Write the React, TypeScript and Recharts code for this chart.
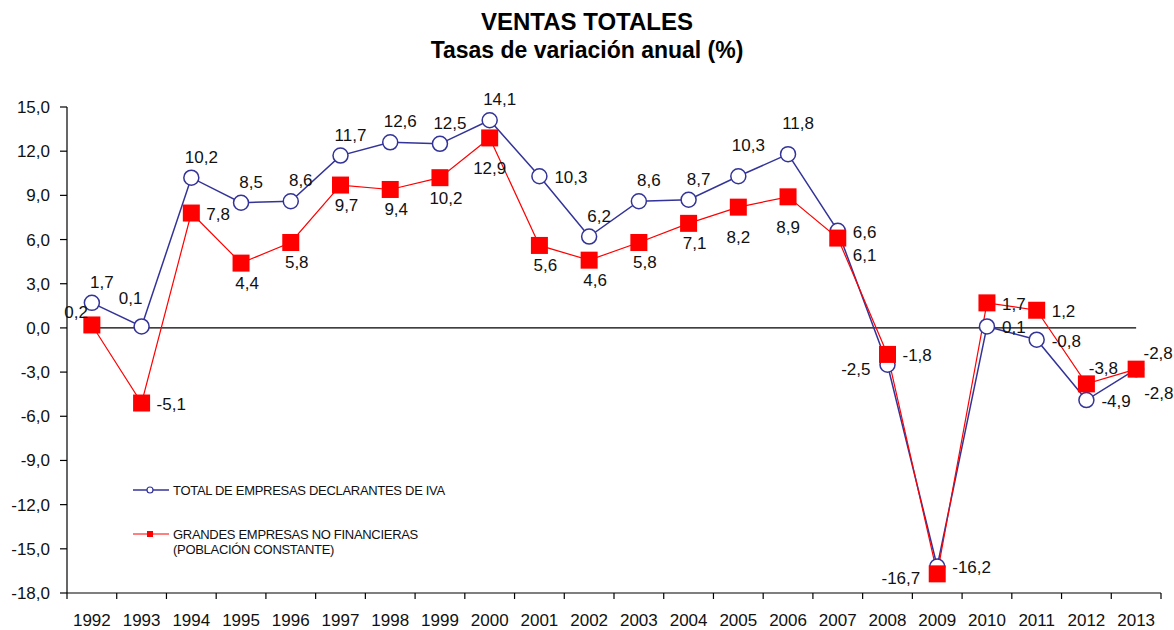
import React from 'react';
import { LineChart, Line, XAxis, YAxis, ReferenceLine, LabelList } from 'recharts';

const YEARS = [
  '1992', '1993', '1994', '1995', '1996', '1997', '1998', '1999', '2000', '2001', '2002',
  '2003', '2004', '2005', '2006', '2007', '2008', '2009', '2010', '2011', '2012', '2013',
];

// TOTAL DE EMPRESAS DECLARANTES DE IVA
const TOTAL_IVA = [
  1.7, 0.1, 10.2, 8.5, 8.6, 11.7, 12.6, 12.5, 14.1, 10.3, 6.2,
  8.6, 8.7, 10.3, 11.8, 6.6, -2.5, -16.2, 0.1, -0.8, -4.9, -2.8,
];

// GRANDES EMPRESAS NO FINANCIERAS (POBLACIÓN CONSTANTE)
const GRANDES = [
  0.2, -5.1, 7.8, 4.4, 5.8, 9.7, 9.4, 10.2, 12.9, 5.6, 4.6,
  5.8, 7.1, 8.2, 8.9, 6.1, -1.8, -16.7, 1.7, 1.2, -3.8, -2.8,
];

const Y_TICKS = [-18, -15, -12, -9, -6, -3, 0, 3, 6, 9, 12, 15];

// where each data label sits relative to its marker
const TOTAL_LABEL_POS = [
  'top', 'topleft', 'top', 'top', 'top', 'top', 'top', 'top', 'top', 'right', 'top',
  'top', 'top', 'hightop', 'hightop', 'right', 'left', 'right', 'right', 'right', 'right', 'cornerright',
];
const GRANDES_LABEL_POS = [
  'upleft', 'right', 'right', 'bottom', 'bottom', 'bottom', 'bottom', 'bottom', 'lowbottom', 'bottom', 'bottom',
  'bottom', 'bottom', 'lowbottom', 'lowbottom', 'lowright', 'right', 'left', 'right', 'right', 'topright', 'farright',
];

const W = 1174;
const H = 630;
const M = { top: 107, right: 13, bottom: 0, left: 0 };
const Y_W = 67;
const X_H = 37;
const HALF_BAND = (W - Y_W - M.right) / YEARS.length / 2;

const FONT = '"Liberation Sans", Arial, sans-serif';
const BLUE = '#333399';
const RED = '#ff0000';

const data = YEARS.map((year, i) => ({
  year,
  pos: i + 0.5,
  total: TOTAL_IVA[i],
  grandes: GRANDES[i],
}));

const fmt = (v: number) => v.toFixed(1).replace('.', ',');

const OFFSETS: Record<string, { dx: number; dy: number; anchor: string }> = {
  top: { dx: 10, dy: -21, anchor: 'middle' },
  hightop: { dx: 10, dy: -31, anchor: 'middle' },
  topleft: { dx: -11, dy: -28, anchor: 'middle' },
  upleft: { dx: -4, dy: -13, anchor: 'end' },
  topright: { dx: 17, dy: -16, anchor: 'middle' },
  farright: { dx: 22, dy: -16, anchor: 'middle' },
  bottom: { dx: 6, dy: 20, anchor: 'middle' },
  lowbottom: { dx: 0, dy: 30, anchor: 'middle' },
  right: { dx: 15, dy: 1, anchor: 'start' },
  lowright: { dx: 15, dy: 17, anchor: 'start' },
  cornerright: { dx: 8, dy: 24, anchor: 'start' },
  left: { dx: -17, dy: 4, anchor: 'end' },
};

const makeLabel = (positions: string[]) => (props: any) => {
  const vb = props.viewBox || {};
  const x = props.x ?? vb.x + (vb.width || 0) / 2;
  const y = props.y ?? vb.y + (vb.height || 0) / 2;
  const o = OFFSETS[positions[props.index]] || OFFSETS.top;
  return (
    <text
      x={x + o.dx}
      y={y + o.dy}
      dy="0.35em"
      textAnchor={o.anchor}
      fontFamily={FONT}
      fontSize={17}
      fill="#111"
    >
      {fmt(Number(props.value))}
    </text>
  );
};

const SquareDot = (props: any) => {
  const { cx, cy, index } = props;
  if (cx == null || cy == null) return <g key={index} />;
  return <rect key={index} x={cx - 8.5} y={cy - 8.5} width={17} height={17} fill={RED} />;
};

const XTick = (props: any) => {
  const { x, y, payload } = props;
  if (payload.value >= YEARS.length) return <g />;
  return (
    <text x={x + HALF_BAND} y={y + 25} textAnchor="middle" fontFamily={FONT} fontSize={17} fill="#111">
      {YEARS[payload.value]}
    </text>
  );
};

const Legend = () => (
  <svg width={360} height={90} style={{ position: 'absolute', left: 120, top: 474 }}>
    <line x1={13} x2={49} y1={16} y2={16} stroke={BLUE} strokeWidth={1.5} />
    <circle cx={30} cy={16} r={3} fill="#fff" stroke={BLUE} strokeWidth={1.2} />
    <text x={53} y={21} fontFamily={FONT} fontSize={13} fill="#111" letterSpacing={-0.3}>
      TOTAL DE EMPRESAS DECLARANTES DE IVA
    </text>
    <line x1={13} x2={49} y1={60} y2={60} stroke={RED} strokeWidth={1.2} />
    <rect x={27} y={57} width={6} height={6} fill={RED} />
    <text x={53} y={65} fontFamily={FONT} fontSize={13} fill="#111" letterSpacing={-0.3}>
      GRANDES EMPRESAS NO FINANCIERAS
    </text>
    <text x={53} y={80} fontFamily={FONT} fontSize={13} fill="#111" letterSpacing={-0.3}>
      (POBLACIÓN CONSTANTE)
    </text>
  </svg>
);

export default function App() {
  return (
    <div style={{ position: 'absolute', left: 0, top: 0, width: W, height: H, background: '#fff', fontFamily: FONT }}>
      <div style={{ position: 'absolute', left: 0, width: W, top: 8, textAlign: 'center', fontWeight: 'bold', fontSize: 24, color: '#000' }}>
        VENTAS TOTALES
      </div>
      <div style={{ position: 'absolute', left: 0, width: W, top: 37, textAlign: 'center', fontWeight: 'bold', fontSize: 23, color: '#000' }}>
        Tasas de variación anual (%)
      </div>
      <LineChart width={W} height={H} data={data} margin={M}>
        <XAxis
          dataKey="pos"
          type="number"
          domain={[0, YEARS.length]}
          ticks={YEARS.map((_, i) => i).concat(YEARS.length)}
          tick={<XTick />}
          height={X_H}
          axisLine={{ stroke: '#000', strokeWidth: 1.2 }}
          tickLine={{ stroke: '#000', strokeWidth: 1.2 }}
          tickSize={6}
          interval={0}
        />
        <YAxis
          type="number"
          domain={[-18, 15]}
          ticks={Y_TICKS}
          tickFormatter={fmt}
          width={Y_W}
          axisLine={{ stroke: '#000', strokeWidth: 1.2 }}
          tickLine={{ stroke: '#000', strokeWidth: 1.2 }}
          tickSize={7}
          tickMargin={10}
          tick={{ fontFamily: FONT, fontSize: 17, fill: '#111' }}
          interval={0}
        />
        <ReferenceLine
          segment={[{ x: 0.5, y: 0 }, { x: YEARS.length - 0.5, y: 0 }]}
          stroke="#000"
          strokeWidth={1.2}
        />
        <Line
          dataKey="total"
          stroke={BLUE}
          strokeWidth={1.5}
          dot={{ r: 7.5, fill: '#fff', stroke: BLUE, strokeWidth: 1.5 }}
          activeDot={false}
          isAnimationActive={false}
        >
          <LabelList dataKey="total" content={makeLabel(TOTAL_LABEL_POS)} />
        </Line>
        <Line
          dataKey="grandes"
          stroke={RED}
          strokeWidth={1.2}
          dot={<SquareDot />}
          activeDot={false}
          isAnimationActive={false}
        >
          <LabelList dataKey="grandes" content={makeLabel(GRANDES_LABEL_POS)} />
        </Line>
      </LineChart>
      <Legend />
    </div>
  );
}
